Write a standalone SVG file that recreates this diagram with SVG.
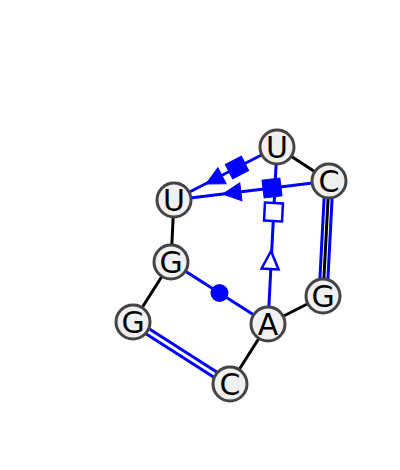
<svg xmlns="http://www.w3.org/2000/svg" width="400" height="470" viewBox="0 0 400 470">
<style>
.bb{stroke:#000;stroke-width:3;fill:none}
.bl{stroke:#0000ff;stroke-width:3;fill:none}
.fb{fill:#0000ff;stroke:#0000ff;stroke-width:1}
.ob{fill:#fff;stroke:#0000ff;stroke-width:2.5}
.nd circle{fill:#f0f0f0;stroke:#444;stroke-width:3}
.nd text{font-family:"DejaVu Sans",sans-serif;font-size:30px;text-anchor:middle;fill:#000}
</style>
<rect width="400" height="470" fill="#fff"/>
<g id="connectors">
<line class="bb" x1="277" y1="147" x2="329" y2="181"/>
<line class="bb" x1="174" y1="200" x2="171" y2="262"/>
<line class="bb" x1="171" y1="262" x2="133" y2="322"/>
<line class="bb" x1="230" y1="384" x2="268" y2="324"/>
<line class="bb" x1="268" y1="324" x2="323" y2="296"/>
<line class="bl" x1="325" y1="181" x2="319" y2="296"/>
<line class="bl" x1="333" y1="181" x2="327" y2="296"/>
<line class="bb" x1="329" y1="181" x2="323" y2="296"/>
<line class="bl" x1="131.4" y1="324.5" x2="228.4" y2="386.5"/>
<line class="bl" x1="134.6" y1="319.5" x2="231.6" y2="381.5"/>
<line class="bl" x1="277" y1="147" x2="174" y2="200"/>
<rect class="fb" x="-9" y="-8" width="18" height="16" transform="translate(237,167.5) rotate(-27.2)"/>
<polygon class="fb" points="0,0 18,-9 18,9" transform="translate(206,184) rotate(-27.2)"/>
<line class="bl" x1="329" y1="181" x2="174" y2="200"/>
<line class="bl" x1="277" y1="147" x2="268" y2="324"/>
<rect class="fb" x="-9" y="-9" width="18" height="18" transform="translate(272,188) rotate(-7)"/>
<polygon class="fb" points="0,0 18,-9 18,9" transform="translate(223,194) rotate(-7)"/>
<rect class="ob" x="-9" y="-9" width="18" height="18" transform="translate(273.5,212) rotate(3)"/>
<polygon class="ob" points="0,0 -8.5,18 8.5,18" transform="translate(271,251) rotate(3)"/>
<line class="bl" x1="171" y1="262" x2="268" y2="324"/>
<circle cx="219.5" cy="293" r="9" fill="#0000ff"/>
</g>
<g id="n1" class="nd"><circle cx="277" cy="147" r="17"/><text x="277" y="158">U</text></g>
<g id="n2" class="nd"><circle cx="329" cy="181" r="17"/><text x="329" y="192">C</text></g>
<g id="n3" class="nd"><circle cx="174" cy="200" r="17"/><text x="174" y="211">U</text></g>
<g id="n4" class="nd"><circle cx="171" cy="262" r="17"/><text x="171" y="273">G</text></g>
<g id="n5" class="nd"><circle cx="133" cy="322" r="17"/><text x="133" y="333">G</text></g>
<g id="n6" class="nd"><circle cx="268" cy="324" r="17"/><text x="268" y="335">A</text></g>
<g id="n7" class="nd"><circle cx="323" cy="296" r="17"/><text x="323" y="307">G</text></g>
<g id="n8" class="nd"><circle cx="230" cy="384" r="17"/><text x="230" y="395">C</text></g>
</svg>
